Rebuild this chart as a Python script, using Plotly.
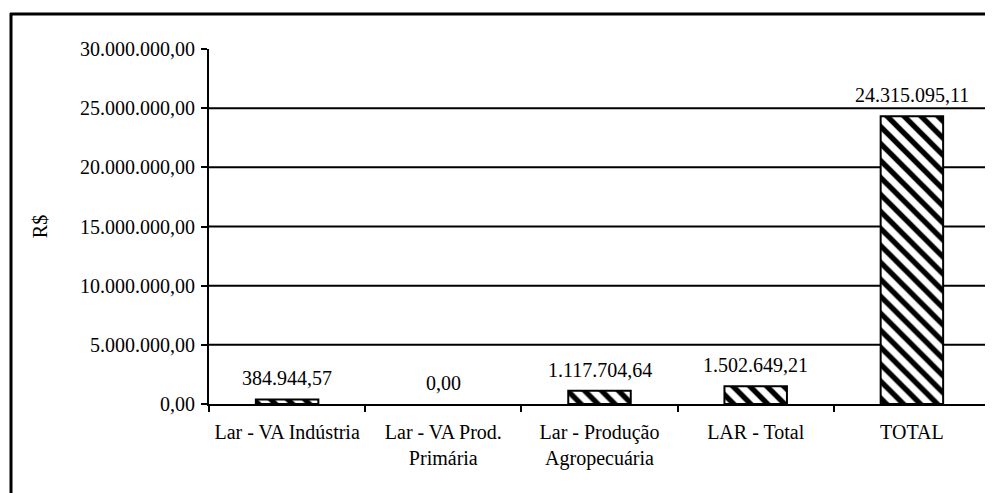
import plotly.graph_objects as go

categories = ["Lar - VA Indústria", "Lar - VA Prod.<br>Primária", "Lar - Produção<br>Agropecuária", "LAR - Total", "TOTAL"]
values = [384944.57, 0.00, 1117704.64, 1502649.21, 24315095.11]
y_ticks = [0, 5000000, 10000000, 15000000, 20000000, 25000000, 30000000]
y_title = "R$"

FONT = "'Liberation Serif', 'Times New Roman', serif"
FS = 20

def fmt(v):
    return f"{v:,.2f}".replace(",", "X").replace(".", ",").replace("X", ".")

fig = go.Figure()
fig.add_trace(go.Bar(
    x=categories, y=values,
    marker=dict(color="white",
                line=dict(color="black", width=[2 if v > 0 else 0 for v in values]),
                pattern=dict(shape="\\", fgcolor="black", bgcolor="white", fgopacity=1,
                             size=12, solidity=0.45)),
    hoverinfo="skip",
))

for c, v in zip(categories, values):
    fig.add_annotation(x=c, y=v, text=fmt(v), showarrow=False, yanchor="bottom", yshift=8,
                       font=dict(family=FONT, size=FS, color="black"))

# horizontal gridlines (interior ticks only)
for t in y_ticks[1:-1]:
    fig.add_shape(type="line", xref="paper", yref="y", x0=0, x1=1, y0=t, y1=t,
                  line=dict(color="black", width=2), layer="below")

OFF = 8  # page body margin
W, H = 993, 493
L, T = 209 - OFF, 49 - OFF
R = W - (990 - OFF)
B = H - (404 - OFF)
pw, ph = W - L - R, H - T - B
def px(x):
    return (x - OFF - L) / pw
def py(y):
    return (H - B - (y - OFF)) / ph

# outer frame (left and top edges)
fig.add_shape(type="line", xref="paper", yref="paper", x0=px(11), x1=px(11), y0=py(13), y1=py(520),
              line=dict(color="black", width=3))
fig.add_shape(type="line", xref="paper", yref="paper", x0=px(10), x1=px(1010), y0=py(14), y1=py(14),
              line=dict(color="black", width=3))

fig.update_layout(
    width=W, height=H,
    margin=dict(l=L, r=R, t=T, b=B),
    paper_bgcolor="white", plot_bgcolor="white",
    separators=",.",
    bargap=0.6,
    showlegend=False,
    font=dict(family=FONT, size=FS, color="black"),
    xaxis=dict(showline=True, linecolor="black", linewidth=2, ticks="outside", tickson="boundaries",
               ticklen=6, tickwidth=2, tickcolor="black", showgrid=False, ticklabelstandoff=9,
               tickfont=dict(family=FONT, size=FS, color="black")),
    yaxis=dict(range=[0, 30000000], tickvals=y_ticks, tickformat=",.2f", showline=True, linecolor="black",
               linewidth=2, ticks="outside", ticklen=6, tickwidth=2, tickcolor="black", showgrid=False,
               ticklabelstandoff=2,
               zeroline=False, tickfont=dict(family=FONT, size=FS, color="black"),
               title=dict(text=y_title, font=dict(family=FONT, size=20, color="black"), standoff=27)),
)

fig.write_html("out.html")
